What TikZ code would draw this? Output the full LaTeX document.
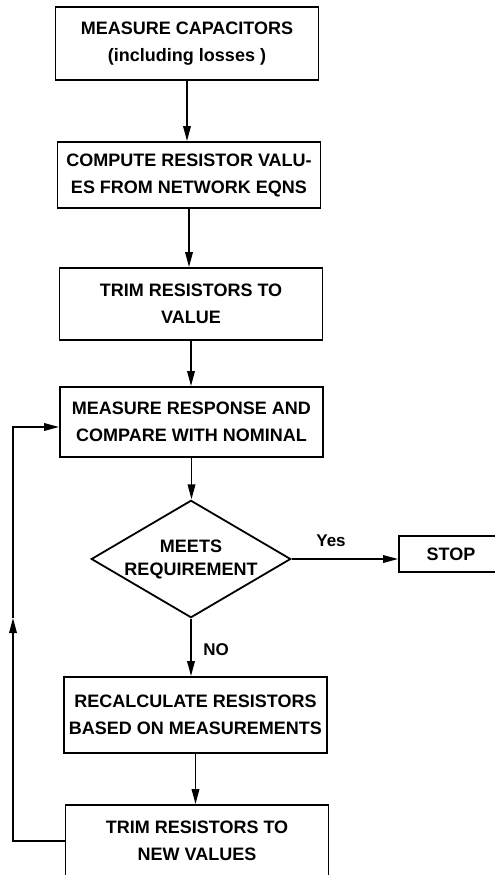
\documentclass[tikz,border=0pt]{standalone}
\usepackage{fontspec}
\setsansfont{Liberation Sans}
\usetikzlibrary{shapes.geometric,arrows.meta}
\newlength{\du}
\setlength{\du}{10pt}
\tikzset{
  procbox/.style={draw,line width=1.8pt,minimum width=26.3\du,minimum height=7.2\du,
    inner sep=2pt,align=center,font=\sffamily\bfseries\fontsize{18}{27}\selectfont},
  testbox/.style={draw,diamond,aspect=1.7,line width=1.8pt,minimum width=19.4\du,
    minimum height=11.4\du,inner sep=0pt,align=center,font=\sffamily\bfseries\fontsize{18}{23}\selectfont},
  flowlabel/.style={font=\sffamily\bfseries\fontsize{17}{20}\selectfont},
  flowline/.style={line width=1.8pt,-{Triangle[length=15pt,width=7.5pt]}},
}
\begin{document}
\begin{tikzpicture}
\pgftransformxscale{1.000000}
\pgftransformyscale{-1.000000}
\useasboundingbox (0\du,0\du) rectangle (49.5\du,87.5\du);

\node[procbox,minimum height=7.3\du] (capmeas) at (18.7\du,4.35\du){MEASURE CAPACITORS\\(including losses )};
\node[procbox,minimum height=6.6\du] (rcompute) at (18.9\du,17.5\du){COMPUTE RESISTOR VALU-\\ES FROM NETWORK EQNS};
\node[procbox] (rtrim) at (19.1\du,30.4\du){TRIM RESISTORS TO\\VALUE};
\node[procbox,minimum height=7\du] (respmeas) at (19.15\du,42.2\du){MEASURE RESPONSE AND\\COMPARE WITH NOMINAL};
\node[testbox] (meets) at (19.1\du,55.9\du){MEETS\\REQUIREMENT};
\node[procbox,minimum width=10.4\du,minimum height=3.6\du] (stop) at (45.1\du,55.4\du){STOP};
\node[procbox,minimum height=7.6\du] (rrecalc) at (19.55\du,71.5\du){RECALCULATE RESISTORS\\BASED ON MEASUREMENTS};
\node[procbox] (rretrim) at (19.7\du,84.1\du){TRIM RESISTORS TO\\NEW VALUES};

\node[flowlabel] (yeslbl) at (33.1\du,54.1\du){Yes};
\node[flowlabel] (nolbl) at (21.6\du,65\du){NO};

\draw[flowline] (capmeas.south)--(capmeas.south |- rcompute.north);
\draw[flowline] (rcompute.south)--(rcompute.south |- rtrim.north);
\draw[flowline] (rtrim.south)--(rtrim.south |- respmeas.north);
\draw[flowline] (respmeas.south)--(respmeas.south |- meets.north);
\draw[flowline] (meets.east)--(meets.east -| stop.west);
\draw[flowline] (meets.south)--(meets.south |- rrecalc.north);
\draw[flowline] (rrecalc.south)--(rrecalc.south |- rretrim.north);

\coordinate (loopup) at (1.3\du,61.8\du);
\coordinate (loopin) at (1.3\du,42.7\du);
\draw[flowline] (rretrim.west) -| (loopup);
\draw[flowline] (loopup)--(loopin)--(loopin -| respmeas.west);
\end{tikzpicture}
\end{document}
